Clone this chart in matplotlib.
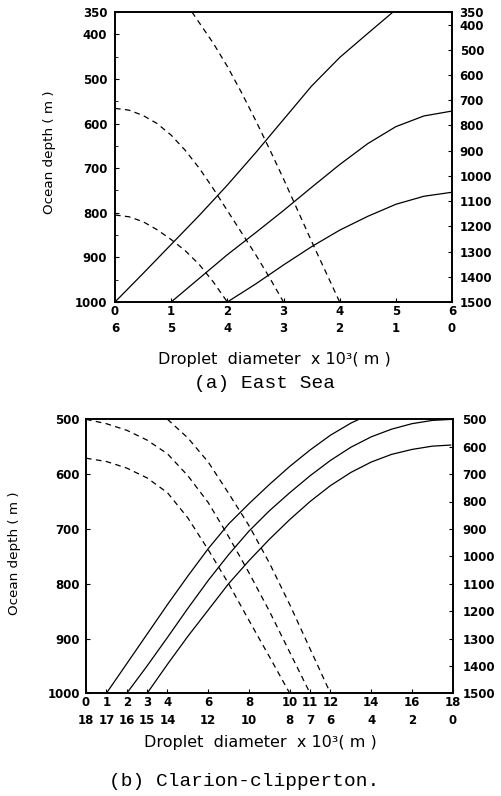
import matplotlib
matplotlib.use("Agg")
import matplotlib.pyplot as plt
from matplotlib.ticker import MultipleLocator

# ---- (a) East Sea ----
a_s1_x = [0, 0.5, 1, 1.5, 2, 2.5, 3, 3.5, 4, 4.5, 4.95]
a_s1_y = [1000, 936, 871, 806, 738, 666, 591, 516, 452, 398, 350]
a_s2_x = [1, 1.5, 2, 2.5, 3, 3.5, 4, 4.5, 5, 5.5, 6]
a_s2_y = [1000, 947, 894, 845, 795, 743, 692, 645, 607, 583, 572]
a_s3_x = [2, 2.5, 3, 3.5, 4, 4.5, 5, 5.5, 6]
a_s3_y = [1000, 960, 917, 876, 839, 808, 781, 763, 754]
a_d1_x = [0, 0.25, 0.5, 0.75, 1, 1.25, 1.5, 1.75, 2]
a_d1_y = [805, 809, 820, 838, 860, 885, 916, 955, 1000]
a_d2_x = [0, 0.25, 0.5, 0.75, 1, 1.25, 1.5, 1.75, 2, 2.25, 2.5, 2.75, 3]
a_d2_y = [566, 570, 582, 600, 626, 660, 700, 746, 795, 844, 893, 945, 1000]
a_d3_x = [1.37, 1.5, 1.75, 2, 2.25, 2.5, 2.75, 3, 3.25, 3.5, 3.75, 4]
a_d3_y = [350, 374, 420, 472, 530, 592, 657, 724, 794, 864, 932, 1000]
a_xticks = [0, 1, 2, 3, 4, 5, 6]
a_xtick_low = [6, 5, 4, 3, 2, 1, 0]
a_left_ticks = [350, 400, 500, 600, 700, 800, 900, 1000]
a_right_ticks = [350, 400, 500, 600, 700, 800, 900, 1000, 1100, 1200, 1300, 1400, 1500]

# ---- (b) Clarion-clipperton ----
b_s1_x = [1, 2, 3, 4, 5, 6, 7, 8, 9, 10, 11, 12, 13, 13.4]
b_s1_y = [1000, 946, 892, 838, 786, 736, 691, 654, 619, 586, 556, 529, 507, 500]
b_s2_x = [2, 3, 4, 5, 6, 7, 8, 9, 10, 11, 12, 13, 14, 15, 16, 17, 18]
b_s2_y = [1000, 950, 898, 845, 794, 747, 704, 667, 634, 603, 575, 551, 532, 518, 508, 502, 500]
b_s3_x = [3, 4, 5, 6, 7, 8, 9, 10, 11, 12, 13, 14, 15, 16, 17, 17.9]
b_s3_y = [1000, 947, 896, 848, 800, 758, 719, 683, 650, 621, 597, 578, 564, 555, 549, 547]
b_d1_x = [0, 1, 2, 3, 4, 5, 6, 7, 8, 9, 10]
b_d1_y = [571, 577, 589, 607, 634, 680, 738, 800, 867, 933, 1000]
b_d2_x = [0, 1, 2, 3, 4, 5, 6, 7, 8, 9, 10, 11]
b_d2_y = [500, 508, 520, 538, 563, 603, 652, 714, 780, 850, 925, 1000]
b_d3_x = [4, 5, 6, 7, 8, 9, 10, 11, 12]
b_d3_y = [500, 534, 578, 635, 694, 762, 838, 919, 1000]
b_xticks = [0, 1, 2, 3, 4, 6, 8, 10, 11, 12, 14, 16, 18]
b_xtick_low = [18, 17, 16, 15, 14, 12, 10, 8, 7, 6, 4, 2, 0]
b_left_ticks = [500, 600, 700, 800, 900, 1000]
b_right_ticks = [500, 600, 700, 800, 900, 1000, 1100, 1200, 1300, 1400, 1500]

W, H = 501, 796
fig = plt.figure(figsize=(W / 100, H / 100), dpi=100)


def panel(rect, xlim, ylim, rlim, xticks, xlow, lticks, rticks, solids, dashes, lpad, rpad):
    ax = fig.add_axes(rect)
    for x, y in solids:
        ax.plot(x, y, color="black", lw=0.9, solid_joinstyle="round")
    for x, y in dashes:
        ln, = ax.plot(x, y, color="black", lw=0.9)
        ln.set_dashes((4.5, 3.5))
    ax.set_xlim(*xlim)
    ax.set_ylim(*ylim)
    ax.set_xticks(xticks, labels=[f"{a}\n{b}" for a, b in zip(xticks, xlow)])
    ax.set_yticks(lticks)
    ax.tick_params(direction="in", length=3, width=0.8, labelsize=8.5)
    ax.tick_params(axis="y", pad=lpad)
    ax.tick_params(axis="x", pad=2)
    for lab in ax.get_xticklabels():
        lab.set_linespacing(1.45)
    tw = ax.twinx()
    tw.set_ylim(*rlim)
    tw.set_yticks(rticks)
    tw.tick_params(direction="in", length=3, width=0.8, labelsize=8.5, pad=rpad)
    for a in (ax, tw):
        for s in a.spines.values():
            s.set_linewidth(1.2)
        for lab in a.get_xticklabels() + a.get_yticklabels():
            lab.set_fontweight("bold")
    return ax


ax1 = panel([115 / W, 1 - 302 / H, 337 / W, 290 / H], (0, 6), (1000, 350), (1500, 350),
            a_xticks, a_xtick_low, a_left_ticks, a_right_ticks,
            [(a_s1_x, a_s1_y), (a_s2_x, a_s2_y), (a_s3_x, a_s3_y)],
            [(a_d1_x, a_d1_y), (a_d2_x, a_d2_y), (a_d3_x, a_d3_y)], 5.5, 5.5)
ax1.yaxis.set_minor_locator(MultipleLocator(50))
ax1.tick_params(which="minor", direction="in", length=2, width=0.6)

ax2 = panel([86 / W, 1 - 693.3 / H, 366.7 / W, 274 / H], (0, 18), (1000, 500), (1500, 500),
            b_xticks, b_xtick_low, b_left_ticks, b_right_ticks,
            [(b_s1_x, b_s1_y), (b_s2_x, b_s2_y), (b_s3_x, b_s3_y)],
            [(b_d1_x, b_d1_y), (b_d2_x, b_d2_y), (b_d3_x, b_d3_y)], 4.5, 7)

# labels and captions
fig.text(49 / W, 1 - 152 / H, "Ocean depth ( m )", rotation=90, fontsize=9.7,
         ha="center", va="center")
fig.text(15 / W, 1 - 553 / H, "Ocean depth ( m )", rotation=90, fontsize=9.7,
         ha="center", va="center")
fig.text(274 / W, 1 - 360 / H, "Droplet  diameter  x 10³( m )", fontsize=11.5,
         ha="center", va="center")
fig.text(260 / W, 1 - 743 / H, "Droplet  diameter  x 10³( m )", fontsize=11.5,
         ha="center", va="center")
fig.text(264 / W, 1 - 384 / H, "(a) East Sea", family="Liberation Mono", fontsize=14,
         ha="center", va="center")
fig.text(244 / W, 1 - 782 / H, "(b) Clarion-clipperton.", family="Liberation Mono",
         fontsize=14, ha="center", va="center")

fig.savefig("out.png", dpi=100)
